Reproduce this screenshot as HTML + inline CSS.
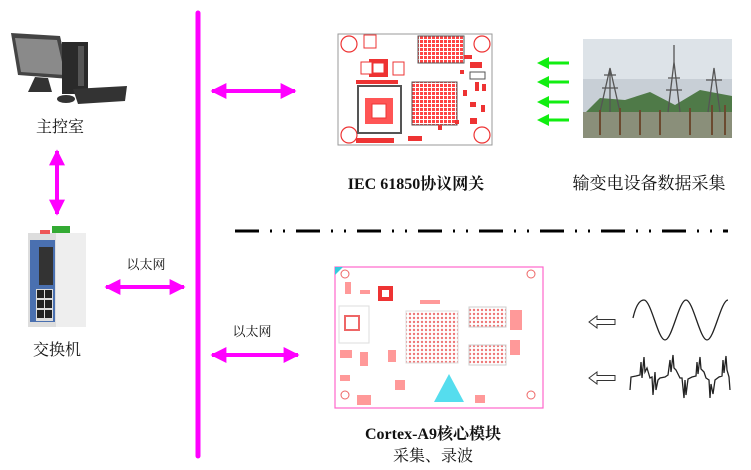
<!DOCTYPE html>
<html><head><meta charset="utf-8"><style>
html,body{margin:0;padding:0;background:#fff;width:751px;height:470px;overflow:hidden}
svg{display:block}
.cn{font-family:"Liberation Serif","Noto Serif CJK SC","Noto Sans CJK SC",serif;font-size:16px;fill:#111}
.b{font-family:"Liberation Serif","Noto Serif CJK SC",serif;font-size:16px;font-weight:bold;fill:#111}
</style></head><body>
<svg width="751" height="470" viewBox="0 0 751 470" xmlns="http://www.w3.org/2000/svg">
<defs>
<marker id="m" viewBox="0 0 10 10" refX="9" refY="5" markerWidth="4" markerHeight="4" orient="auto-start-reverse"><path d="M0,0L10,5L0,10z" fill="#f0f"/></marker>
<pattern id="grid" width="4" height="4" patternUnits="userSpaceOnUse"><rect width="4" height="4" fill="#fff"/><rect width="3" height="3" fill="#f44"/></pattern>
<pattern id="grid2" width="4" height="4" patternUnits="userSpaceOnUse"><rect width="4" height="4" fill="#fff"/><circle cx="2" cy="2" r="1.2" fill="#e77"/></pattern>
</defs>
<line x1="198" y1="13" x2="198" y2="456" stroke="#f0f" stroke-width="5" stroke-linecap="round"/>
<g stroke="#f0f" stroke-width="4" fill="none">
<line x1="212" y1="91" x2="295" y2="91" marker-start="url(#m)" marker-end="url(#m)"/>
<line x1="106" y1="287" x2="184" y2="287" marker-start="url(#m)" marker-end="url(#m)"/>
<line x1="212" y1="355" x2="298" y2="355" marker-start="url(#m)" marker-end="url(#m)"/>
<line x1="57" y1="151" x2="57" y2="214" marker-start="url(#m)" marker-end="url(#m)"/>
</g>
<g>
<polygon points="11,33 60,36 70,79 18,75" fill="#444"/>
<polygon points="15,38 57,40 65,75 21,72" fill="#8a8a8a"/>
<rect x="62" y="42" width="26" height="52" fill="#2a2a2a"/>
<rect x="78" y="46" width="6" height="40" fill="#555"/>
<polygon points="35,77 48,78 52,92 28,92" fill="#333"/>
<polygon points="73,89 127,86 125,101 78,104" fill="#333"/>
<ellipse cx="66" cy="99" rx="9" ry="4" fill="#333"/>
</g>
<text class="cn" x="60" y="132" text-anchor="middle">主控室</text>
<g>
<rect x="28" y="233" width="57" height="94" fill="#ddd"/>
<rect x="56" y="233" width="30" height="94" fill="#eee"/>
<rect x="30" y="240" width="25" height="82" fill="#4a70b0"/>
<rect x="39" y="247" width="14" height="38" fill="#333"/>
<rect x="36" y="289" width="17" height="32" fill="#ddd"/>
<g fill="#222"><rect x="37" y="290" width="7" height="8"/><rect x="45" y="290" width="7" height="8"/><rect x="37" y="300" width="7" height="8"/><rect x="45" y="300" width="7" height="8"/><rect x="37" y="310" width="7" height="8"/><rect x="45" y="310" width="7" height="8"/></g>
<rect x="52" y="226" width="18" height="7" fill="#3a3"/>
<rect x="40" y="230" width="10" height="4" fill="#e55"/>
</g>
<text class="cn" x="57" y="355" text-anchor="middle">交换机</text>
<text class="cn" x="146" y="269" text-anchor="middle" style="font-size:13px">以太网</text>
<text class="cn" x="252" y="336" text-anchor="middle" style="font-size:13px">以太网</text>
<g>
<rect x="338" y="34" width="154" height="111" fill="#fff" stroke="#999" stroke-width="1"/>
<g fill="none" stroke="#e33" stroke-width="1.2">
<circle cx="349" cy="44" r="8"/><circle cx="482" cy="44" r="8"/><circle cx="349" cy="135" r="8"/><circle cx="482" cy="135" r="8"/>
</g>
<rect x="418" y="36" width="46" height="27" fill="url(#grid)" stroke="#555"/>
<rect x="412" y="82" width="45" height="43" fill="url(#grid)" stroke="#555"/>
<rect x="358" y="86" width="43" height="47" fill="#fff" stroke="#555" stroke-width="2"/>
<rect x="365" y="98" width="28" height="26" fill="#f55"/>
<rect x="372" y="104" width="14" height="14" fill="#fff" stroke="#e33"/>
<rect x="369" y="59" width="19" height="18" fill="#e33"/><rect x="373" y="63" width="11" height="10" fill="#fff" stroke="#e33"/>
<rect x="361" y="62" width="11" height="12" fill="#fff" stroke="#e33"/>
<rect x="393" y="62" width="11" height="13" fill="#fff" stroke="#e33"/>
<rect x="364" y="35" width="12" height="13" fill="#fff" stroke="#e33"/>
<rect x="356" y="80" width="42" height="4" fill="#e33"/>
<rect x="356" y="138" width="38" height="5" fill="#e33"/>
<rect x="408" y="136" width="14" height="5" fill="#e33"/>
<g fill="#e33"><rect x="464" y="55" width="8" height="4"/><rect x="470" y="62" width="12" height="6"/><rect x="475" y="82" width="4" height="9"/><rect x="482" y="84" width="4" height="7"/><rect x="463" y="90" width="4" height="6"/><rect x="455" y="120" width="4" height="4"/><rect x="470" y="118" width="7" height="6"/><rect x="481" y="105" width="4" height="7"/><rect x="438" y="125" width="4" height="5"/><rect x="460" y="70" width="4" height="4"/><rect x="470" y="102" width="6" height="5"/></g>
<rect x="470" y="72" width="15" height="7" fill="#fff" stroke="#555"/>
</g>
<text class="b" x="416" y="189" text-anchor="middle">IEC 61850协议网关</text>
<g stroke="#1e1" stroke-width="3" fill="#1e1">
<line x1="548" y1="63" x2="569" y2="63"/><polygon points="537,63 549,57 549,69" stroke="none"/>
<line x1="548" y1="82" x2="569" y2="82"/><polygon points="537,82 549,76 549,88" stroke="none"/>
<line x1="548" y1="102" x2="569" y2="102"/><polygon points="537,102 549,96 549,108" stroke="none"/>
<line x1="548" y1="120" x2="569" y2="120"/><polygon points="537,120 549,114 549,126" stroke="none"/>
</g>
<g>
<rect x="583" y="39" width="149" height="99" fill="#c8cfd6"/>
<rect x="583" y="39" width="149" height="40" fill="#dde3e8"/>
<path d="M583,115 L600,98 L625,100 L650,92 L675,105 L700,90 L732,96 L732,138 L583,138z" fill="#4f7a48"/>
<rect x="583" y="112" width="149" height="26" fill="#8a8f7a"/>
<g stroke="#555" stroke-width="1.3" fill="none">
<path d="M600,112 L610,68 L620,112 M604,75 L616,75 M602,88 L618,88 M610,68 L610,112"/>
<path d="M668,112 L674,62 L680,112 M668,78 L680,78 M666,90 L682,90 M674,45 L674,62"/>
<path d="M708,112 L714,68 L720,112 M706,80 L722,80"/>
</g>
<g stroke="#6b4a30" stroke-width="2"><line x1="600" y1="110" x2="600" y2="135"/><line x1="620" y1="108" x2="620" y2="135"/><line x1="640" y1="110" x2="640" y2="135"/><line x1="660" y1="110" x2="660" y2="135"/><line x1="690" y1="108" x2="690" y2="135"/><line x1="712" y1="105" x2="712" y2="135"/><line x1="725" y1="105" x2="725" y2="135"/></g>
</g>
<text class="cn" x="649" y="189" text-anchor="middle" style="font-size:17px">输变电设备数据采集</text>
<line x1="235" y1="231" x2="728" y2="231" stroke="#000" stroke-width="3" stroke-dasharray="24,11,2,11,2,11" stroke-linecap="butt"/>
<g>
<rect x="335" y="267" width="208" height="141" fill="#fff" stroke="#f6c" stroke-width="1.2"/>
<polygon points="335,267 343,267 335,275" fill="#3cd"/>
<rect x="406" y="311" width="52" height="52" fill="url(#grid2)" stroke="#ddd"/>
<rect x="469" y="307" width="37" height="20" fill="url(#grid2)" stroke="#ccc"/>
<rect x="469" y="345" width="37" height="20" fill="url(#grid2)" stroke="#ccc"/>
<rect x="378" y="286" width="15" height="15" fill="#e33"/><rect x="382" y="290" width="7" height="7" fill="#fff"/>
<rect x="339" y="306" width="30" height="37" fill="#fff" stroke="#ddd"/>
<rect x="345" y="316" width="14" height="14" fill="none" stroke="#e66" stroke-width="2"/>
<g fill="none" stroke="#e66"><circle cx="345" cy="274" r="4"/><circle cx="531" cy="274" r="4"/><circle cx="345" cy="395" r="4"/><circle cx="531" cy="395" r="4"/></g>
<polygon points="449,374 434,402 464,402" fill="#5de"/>
<g fill="#f99"><rect x="345" y="282" width="6" height="12"/><rect x="360" y="290" width="10" height="4"/><rect x="340" y="350" width="12" height="8"/><rect x="360" y="352" width="8" height="14"/><rect x="388" y="350" width="8" height="12"/><rect x="395" y="380" width="10" height="10"/><rect x="475" y="395" width="10" height="8"/><rect x="510" y="310" width="12" height="20"/><rect x="510" y="340" width="10" height="15"/><rect x="420" y="300" width="20" height="4"/><rect x="340" y="375" width="10" height="6"/><rect x="357" y="395" width="14" height="10"/></g>
</g>
<text class="b" x="433" y="439" text-anchor="middle">Cortex-A9核心模块</text>
<text class="cn" x="433" y="461" text-anchor="middle">采集、录波</text>
<g fill="#fff" stroke="#333" stroke-width="1">
<polygon points="589,322 597,316 597,319.5 615,319.5 615,324.5 597,324.5 597,328"/>
<polygon points="589,378 597,372 597,375.5 615,375.5 615,380.5 597,380.5 597,384"/>
</g>
<path d="M633,318 C636,305 640,300 644,300 C651,300 658,340 665,340 C672,340 679,300 686,300 C693,300 700,340 707,340 C714,340 721,300 728,300" fill="none" stroke="#222" stroke-width="1.3"/>
<path d="M630,390 L631,377 L636,376 L640,375 L641,362 L642,378 L644,357 L645,372 L647,368 L650,378 L652,377 L653,395 L655,372 L656,390 L658,380 L660,378 L665,377 L668,375 L670,360 L671,372 L673,355 L674,368 L676,370 L680,378 L682,378 L684,398 L685,380 L686,395 L688,379 L692,377 L696,376 L697,362 L698,374 L700,357 L701,369 L704,372 L706,378 L709,380 L710,398 L711,384 L713,394 L715,380 L719,377 L722,376 L723,360 L724,373 L726,356 L727,370 L729,377 L730,390" fill="none" stroke="#222" stroke-width="1.3"/>
</svg>
</body></html>
